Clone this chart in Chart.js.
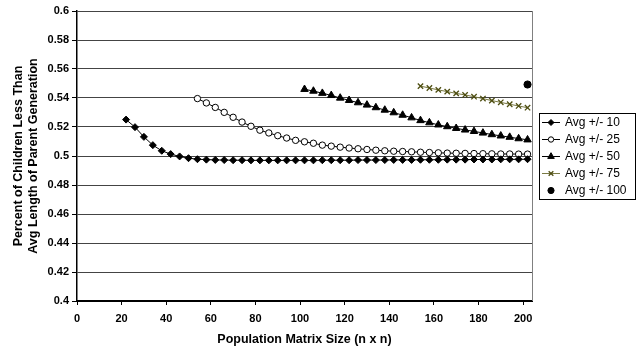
<!DOCTYPE html>
<html>
<head>
<meta charset="utf-8">
<script src="https://cdn.jsdelivr.net/npm/chart.js"></script>
<style>
html,body{margin:0;padding:0;background:#fff;}
#wrap{width:637px;height:347px;}
</style>
</head>
<body>
<div id="wrap"><canvas id="c" width="637" height="347"></canvas></div>
<script>
// ---- data ----
const sizes = [22,26,30,34,38,42,46,50,54,58,62,66,70,74,78,82,86,90,94,98,102,106,110,114,118,122,126,130,134,138,142,146,150,154,158,162,166,170,174,178,182,186,190,194,198,202];
const xTicks = [0,20,40,60,80,100,120,140,160,180,200];
const yTicks = [0.4,0.42,0.44,0.46,0.48,0.5,0.52,0.54,0.56,0.58,0.6];
const seriesNames = ['Avg +/- 10','Avg +/- 25','Avg +/- 50','Avg +/- 75','Avg +/- 100'];
const avg10 = [0.5251,0.5199,0.5132,0.5075,0.5036,0.5013,0.4997,0.4985,0.4978,0.4975,0.4973,0.4972,0.4971,0.4971,0.4970,0.4970,0.4970,0.4970,0.4970,0.4970,0.4970,0.4970,0.4971,0.4971,0.4971,0.4971,0.4972,0.4972,0.4972,0.4972,0.4973,0.4973,0.4973,0.4974,0.4974,0.4974,0.4975,0.4975,0.4975,0.4976,0.4976,0.4976,0.4977,0.4977,0.4977,0.4978];
const avg25 = [0.5396,0.5366,0.5335,0.5301,0.5267,0.5234,0.5205,0.5178,0.5159,0.5140,0.5124,0.5108,0.5098,0.5088,0.5075,0.5068,0.5061,0.5055,0.5050,0.5045,0.5040,0.5036,0.5033,0.5031,0.5029,0.5026,0.5024,0.5022,0.5020,0.5019,0.5018,0.5017,0.5016,0.5015,0.5014,0.5014,0.5013,0.5013];
const avg50 = [0.5460,0.5448,0.5433,0.5418,0.5400,0.5384,0.5368,0.5352,0.5334,0.5317,0.5299,0.5282,0.5264,0.5245,0.5230,0.5215,0.5203,0.5191,0.5180,0.5170,0.5159,0.5148,0.5139,0.5130,0.5120,0.5112];
const avg75 = [0.5482,0.5469,0.5456,0.5444,0.5432,0.5421,0.5409,0.5396,0.5382,0.5370,0.5357,0.5345,0.5333];
const avg100 = [0.5493];

// every series ends at the largest size
function pts(vals){
  const off = sizes.length - vals.length;
  return vals.map((v,i)=>({x:sizes[off+i], y:v}));
}

const FONT = '"Liberation Sans", Arial, Helvetica, sans-serif';
const olive = '#7a7a45';
const oliveDark = '#4d4d10';

const datasets = [
  {label:seriesNames[0], data:pts(avg10), borderColor:'#000', borderWidth:1, pointStyle:'rectRot', pointRadius:3.5, pointBackgroundColor:'#000', pointBorderColor:'#000', pointBorderWidth:1, showLine:true},
  {label:seriesNames[1], data:pts(avg25), borderColor:'#000', borderWidth:1, pointStyle:'circle', pointRadius:3.2, pointBackgroundColor:'#fff', pointBorderColor:'#000', pointBorderWidth:1, showLine:true},
  {label:seriesNames[2], data:pts(avg50), borderColor:'#000', borderWidth:1, pointStyle:'triangle', pointRadius:4.3, pointBackgroundColor:'#000', pointBorderColor:'#000', pointBorderWidth:1, showLine:true},
  {label:seriesNames[3], data:pts(avg75), borderColor:olive, borderWidth:1, pointStyle:'crossRot', pointRadius:3.8, pointBackgroundColor:oliveDark, pointBorderColor:oliveDark, pointBorderWidth:1.3, showLine:true},
  {label:seriesNames[4], data:pts(avg100), borderColor:'#000', borderWidth:1, pointStyle:'circle', pointRadius:3.6, pointBackgroundColor:'#000', pointBorderColor:'#000', pointBorderWidth:1, showLine:false}
];

function drawMarker(ctx, style, r, x, y, fill, stroke, bw){
  ctx.save();
  ctx.fillStyle = fill; ctx.strokeStyle = stroke; ctx.lineWidth = bw;
  ctx.beginPath();
  if (style === 'rectRot'){
    ctx.moveTo(x, y-r); ctx.lineTo(x+r, y); ctx.lineTo(x, y+r); ctx.lineTo(x-r, y); ctx.closePath();
    ctx.fill(); ctx.stroke();
  } else if (style === 'circle'){
    ctx.arc(x, y, r, 0, Math.PI*2); ctx.closePath(); ctx.fill(); ctx.stroke();
  } else if (style === 'triangle'){
    const a = Math.PI*2/3;
    ctx.moveTo(x, y-r);
    ctx.lineTo(x + Math.sin(a)*r, y - Math.cos(a)*r);
    ctx.lineTo(x + Math.sin(2*a)*r, y - Math.cos(2*a)*r);
    ctx.closePath(); ctx.fill(); ctx.stroke();
  } else if (style === 'crossRot'){
    const d = r*Math.SQRT1_2;
    ctx.moveTo(x-d, y-d); ctx.lineTo(x+d, y+d);
    ctx.moveTo(x+d, y-d); ctx.lineTo(x-d, y+d);
    ctx.stroke();
  }
  ctx.restore();
}

const framePlugin = {
  id:'frameAndLegend',
  afterDraw(chart){
    const ctx = chart.ctx;
    const a = chart.chartArea;
    // right border of plot area
    ctx.save();
    ctx.strokeStyle = '#808080'; ctx.lineWidth = 1;
    ctx.beginPath(); ctx.moveTo(Math.round(a.right)+0.5, a.top); ctx.lineTo(Math.round(a.right)+0.5, a.bottom); ctx.stroke();
    ctx.restore();
    // legend
    const bx = 539.5, by = 113.5, bw = 96, bh = 86;
    ctx.save();
    ctx.fillStyle = '#fff'; ctx.fillRect(bx, by, bw, bh);
    ctx.strokeStyle = '#000'; ctx.lineWidth = 1; ctx.strokeRect(bx, by, bw, bh);
    ctx.font = '12px ' + FONT;
    ctx.textBaseline = 'middle'; ctx.textAlign = 'left';
    chart.data.datasets.forEach((ds, i) => {
      const y = 122 + i*17;
      if (ds.showLine){
        ctx.strokeStyle = ds.borderColor; ctx.lineWidth = 1;
        ctx.beginPath(); ctx.moveTo(542, y+0.5); ctx.lineTo(560, y+0.5); ctx.stroke();
      }
      drawMarker(ctx, ds.pointStyle, ds.pointRadius - 0.5, 551, y+0.5, ds.pointBackgroundColor, ds.pointBorderColor, ds.pointBorderWidth);
      ctx.fillStyle = '#000';
      ctx.fillText(ds.label, 565, y+1);
    });
    ctx.restore();
  }
};

new Chart(document.getElementById('c'), {
  type:'scatter',
  data:{datasets},
  options:{
    responsive:false,
    animation:false,
    devicePixelRatio:1,
    layout:{padding:{top:11, right:105, bottom:0, left:0}},
    plugins:{legend:{display:false}, tooltip:{enabled:false}},
    elements:{line:{tension:0}},
    scales:{
      x:{
        type:'linear', min:0, max:204,
        afterBuildTicks:(s)=>{ s.ticks = xTicks.map(v=>({value:v})); },
        afterFit:(s)=>{ s.height = 46; },
        grid:{drawOnChartArea:false, drawTicks:true, tickLength:4, color:'#000', lineWidth:1},
        border:{color:'#000', width:2},
        ticks:{font:{family:FONT, size:11, weight:'bold'}, color:'#000', padding:7, maxRotation:0, autoSkip:false},
        title:{display:true, text:'Population Matrix Size (n x n)', color:'#000', font:{family:FONT, size:12.5, weight:'bold', lineHeight:1.2}, padding:{top:0, bottom:0}}
      },
      y:{
        type:'linear', min:0.4, max:0.6,
        afterBuildTicks:(s)=>{ s.ticks = yTicks.map(v=>({value:v})); },
        afterFit:(s)=>{ s.width = 77; },
        grid:{color:'#444', lineWidth:1, drawTicks:true, tickLength:5, tickColor:'#000'},
        border:{color:'#000', width:1.5},
        ticks:{font:{family:FONT, size:11, weight:'bold'}, color:'#000', padding:3, callback:(v)=>String(parseFloat(Number(v).toFixed(2)))},
        title:{display:true, text:['Percent of Children Less Than','Avg Length of Parent Generation'], color:'#000', font:{family:FONT, size:12.5, weight:'bold', lineHeight:1.2}, padding:{top:11, bottom:0}}
      }
    }
  },
  plugins:[framePlugin]
});
</script>
</body>
</html>
